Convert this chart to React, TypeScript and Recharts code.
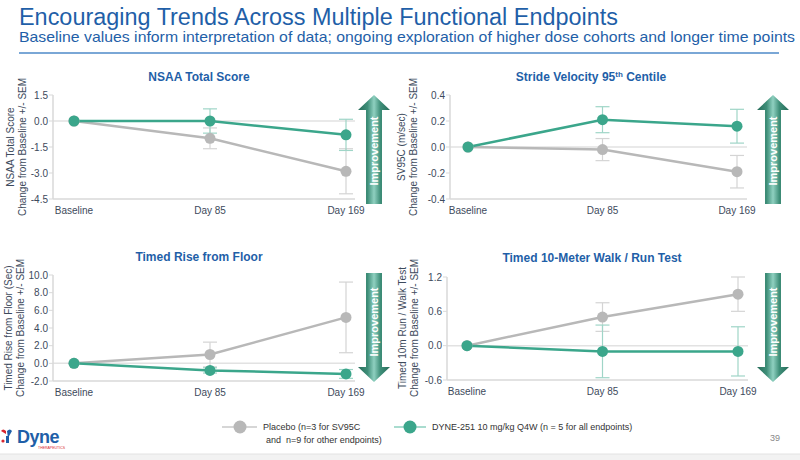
import { LineChart, Line, XAxis, YAxis, ReferenceLine, ErrorBar } from "recharts";

const VISITS = ["Baseline", "Day 85", "Day 169"];

const NSAA_PLACEBO = [0, -1.0, -2.9];
const NSAA_PLACEBO_SEM = [0, 0.6, 1.3];
const NSAA_DYNE = [0, 0, -0.8];
const NSAA_DYNE_SEM = [0, 0.7, 0.9];
const NSAA_TICKS = [-4.5, -3, -1.5, 0, 1.5];

const SV_PLACEBO = [0, -0.02, -0.19];
const SV_PLACEBO_SEM = [0, 0.085, 0.125];
const SV_DYNE = [0, 0.21, 0.16];
const SV_DYNE_SEM = [0, 0.1, 0.13];
const SV_TICKS = [-0.4, -0.2, 0, 0.2, 0.4];

const TRF_PLACEBO = [0, 1.0, 5.2];
const TRF_PLACEBO_SEM = [0, 1.4, 4.0];
const TRF_DYNE = [0, -0.8, -1.2];
const TRF_DYNE_SEM = [0, 0.3, 0.5];
const TRF_TICKS = [-2, 0, 2, 4, 6, 8, 10];

const TMW_PLACEBO = [0, 0.5, 0.9];
const TMW_PLACEBO_SEM = [0, 0.25, 0.3];
const TMW_DYNE = [0, -0.1, -0.1];
const TMW_DYNE_SEM = [0, 0.46, 0.43];
const TMW_TICKS = [-0.6, 0, 0.6, 1.2];

const FONT = '"Liberation Sans", Arial, Helvetica, sans-serif';
const BLUE = "#1f5fa8";
const GREEN = "#3ba68b";
const GREEN_ERR = "#9fd5c7";
const GRAY = "#b8b8b8";
const GRAY_ERR = "#d4d4d4";
const AXIS = "#d9d9d9";
const TICK_TEXT = "#3d4a5c";

function build(placebo: number[], placeboSem: number[], dyne: number[], dyneSem: number[]) {
  return VISITS.map((visit, i) => ({
    visit,
    placebo: placebo[i],
    placeboSem: placeboSem[i],
    dyne: dyne[i],
    dyneSem: dyneSem[i],
  }));
}

interface PanelProps {
  data: ReturnType<typeof build>;
  ticks: number[];
  left: number;
  top: number;
  width: number;
  yAxisWidth: number;
  marginTop: number;
  marginRight: number;
  marginBottom: number;
  padLeft: number;
  padRight: number;
}

function Panel(p: PanelProps) {
  const dom: [number, number] = [p.ticks[0], p.ticks[p.ticks.length - 1]];
  return (
    <div style={{ position: "absolute", left: p.left, top: p.top }}>
      <LineChart
        width={p.width}
        height={160}
        data={p.data}
        margin={{ top: p.marginTop, right: p.marginRight, bottom: p.marginBottom, left: 0 }}
      >
        <XAxis
          dataKey="visit"
          type="category"
          padding={{ left: p.padLeft, right: p.padRight }}
          tickLine={false}
          tickSize={6}
          tickMargin={2}
          height={25}
          axisLine={{ stroke: AXIS, strokeWidth: 1.5 }}
          tick={{ fontSize: 10, fill: TICK_TEXT, fontFamily: FONT }}
        />
        <YAxis
          type="number"
          domain={dom}
          ticks={p.ticks}
          interval={0}
          width={p.yAxisWidth}
          tickSize={4}
          tickMargin={1}
          tickLine={{ stroke: AXIS }}
          axisLine={{ stroke: AXIS, strokeWidth: 1.5 }}
          tickFormatter={(v: number) => v.toFixed(1)}
          tick={{ fontSize: 10, fill: TICK_TEXT, fontFamily: FONT }}
        />
        <ReferenceLine y={0} stroke="#e2e2e2" strokeWidth={1.5} />
        <Line
          dataKey="placebo"
          stroke={GRAY}
          strokeWidth={2.5}
          dot={{ r: 5.5, fill: GRAY, stroke: GRAY, strokeWidth: 0 }}
          activeDot={false}
          isAnimationActive={false}
        >
          <ErrorBar dataKey="placeboSem" width={7} stroke={GRAY_ERR} strokeWidth={1.2} />
        </Line>
        <Line
          dataKey="dyne"
          stroke={GREEN}
          strokeWidth={2.5}
          dot={{ r: 5.5, fill: GREEN, stroke: GREEN, strokeWidth: 0 }}
          activeDot={false}
          isAnimationActive={false}
        >
          <ErrorBar dataKey="dyneSem" width={7} stroke={GREEN_ERR} strokeWidth={1.2} />
        </Line>
      </LineChart>
    </div>
  );
}

function Arrow({ cx, top, bottom, up, textY }: { cx: number; top: number; bottom: number; up: boolean; textY: number }) {
  const pts = up
    ? [[cx - 8, bottom], [cx + 8, bottom], [cx + 8, top + 15], [cx + 16, top + 15], [cx, top], [cx - 16, top + 15], [cx - 8, top + 15]]
    : [[cx - 8, top], [cx + 8, top], [cx + 8, bottom - 15], [cx + 16, bottom - 15], [cx, bottom], [cx - 16, bottom - 15], [cx - 8, bottom - 15]];
  return (
    <g>
      <polygon points={pts.map((q) => q.join(",")).join(" ")} fill="url(#arrowGrad)" />
      <text
        x={cx + 4}
        y={textY}
        transform={`rotate(-90 ${cx + 4} ${textY})`}
        textAnchor="middle"
        fill="#ffffff"
        fontSize={11}
        fontWeight="bold"
        fontFamily={FONT}
      >
        Improvement
      </text>
    </g>
  );
}

function YLabel({ x, y, lines }: { x: number; y: number; lines: string[] }) {
  return (
    <text transform={`rotate(-90 ${x} ${y})`} x={x} y={y} textAnchor="middle" fontSize={10} fill={TICK_TEXT} fontFamily={FONT}>
      <tspan x={x} dy={0}>{lines[0]}</tspan>
      <tspan x={x} dy={11.5}>{lines[1]}</tspan>
    </text>
  );
}

export default function App() {
  return (
    <div style={{ position: "absolute", left: 0, top: 0, width: 800, height: 460, background: "#fff", overflow: "hidden", fontFamily: FONT }}>
      <svg width={800} height={460} style={{ position: "absolute", left: 0, top: 0 }}>
        <defs>
          <linearGradient id="arrowGrad" x1="0" y1="0" x2="1" y2="0">
            <stop offset="0" stopColor="#266b59" />
            <stop offset="0.3" stopColor="#3f8f79" />
            <stop offset="0.5" stopColor="#8fd0c0" />
            <stop offset="0.7" stopColor="#3f8f79" />
            <stop offset="1" stopColor="#266b59" />
          </linearGradient>
        </defs>
        <text x={19} y={25} fontSize={23} fill={BLUE} fontFamily={FONT} textLength={599} lengthAdjust="spacingAndGlyphs">
          Encouraging Trends Across Multiple Functional Endpoints
        </text>
        <text x={19} y={42} fontSize={14.5} fill={BLUE} fontFamily={FONT} textLength={776} lengthAdjust="spacingAndGlyphs">
          Baseline values inform interpretation of data; ongoing exploration of higher dose cohorts and longer time points
        </text>
        <line x1={19} y1={53} x2={779} y2={53} stroke="#7aa7d6" strokeWidth={2} />

        <g fontFamily={FONT} fontSize={12} fontWeight="bold" fill={BLUE} textAnchor="middle">
          <text x={199} y={81}>NSAA Total Score</text>
          <text x={591} y={81}>
            Stride Velocity 95<tspan fontSize={8} dy={-4}>th</tspan>
            <tspan dy={4}> Centile</tspan>
          </text>
          <text x={199} y={261}>Timed Rise from Floor</text>
          <text x={592} y={262}>Timed 10-Meter Walk / Run Test</text>
        </g>

        <YLabel x={14} y={147} lines={["NSAA Total Score", "Change from Baseline +/- SEM"]} />
        <YLabel x={405} y={147} lines={["SV95C (m/sec)", "Change from Baseline +/- SEM"]} />
        <YLabel x={12} y={328} lines={["Timed Rise from Floor (Sec)", "Change from Baseline +/- SEM"]} />
        <YLabel x={406} y={328} lines={["Timed 10m Run / Walk Test", "Change from Baseline +/- SEM"]} />

        <Arrow cx={374} top={95} bottom={204} up textY={151} />
        <Arrow cx={773} top={95} bottom={204} up textY={151} />
        <Arrow cx={374} top={273} bottom={382} up={false} textY={322} />
        <Arrow cx={773} top={273} bottom={382} up={false} textY={322} />

        <line x1={222} y1={427} x2={257} y2={427} stroke="#d6d6d6" strokeWidth={2} />
        <circle cx={240} cy={427} r={6.5} fill={GRAY} />
        <text x={263} y={430} fontSize={9} fill="#333" fontFamily={FONT}>Placebo (n=3 for SV95C</text>
        <text x={266} y={443} fontSize={9} fill="#333" fontFamily={FONT} style={{ whiteSpace: "pre" }}>and  n=9 for other endpoints)</text>
        <line x1={394} y1={427} x2={426} y2={427} stroke="#a9dccf" strokeWidth={2} />
        <circle cx={410} cy={427} r={6.5} fill={GREEN} />
        <text x={432} y={430} fontSize={9} fill="#333" fontFamily={FONT}>DYNE-251 10 mg/kg Q4W (n = 5 for all endpoints)</text>

        <g>
          <path d="M1,431 Q3,428 6,431 L6,434 Z" fill="#d8262f" />
          <path d="M7,431 Q10,428 12,431 L8,438 Z" fill={BLUE} />
          <rect x={6} y={436} width={3} height={7} fill={BLUE} />
          <circle cx={3} cy={441} r={1.6} fill="#d8262f" />
          <text x={17} y={443} fontSize={18} fontWeight="bold" fill={BLUE} fontFamily={FONT} letterSpacing={-0.5}>Dyne</text>
          <text x={38} y={449} fontSize={3.5} fill="#d8262f" fontFamily={FONT}>THERAPEUTICS</text>
        </g>
        <text x={770} y={441} fontSize={9} fill="#888" fontFamily={FONT}>39</text>
        <rect x={0} y={454} width={800} height={6} fill="#f2f2f2" />
        <line x1={0} y1={454} x2={800} y2={454} stroke="#e2e2e2" />
      </svg>

      <Panel data={build(NSAA_PLACEBO, NSAA_PLACEBO_SEM, NSAA_DYNE, NSAA_DYNE_SEM)} ticks={NSAA_TICKS}
        left={0} top={70} width={372} yAxisWidth={53} marginTop={25} marginRight={17} marginBottom={6} padLeft={21} padRight={9} />
      <Panel data={build(SV_PLACEBO, SV_PLACEBO_SEM, SV_DYNE, SV_DYNE_SEM)} ticks={SV_TICKS}
        left={400} top={70} width={360} yAxisWidth={50} marginTop={25} marginRight={13} marginBottom={6} padLeft={18} padRight={10} />
      <Panel data={build(TRF_PLACEBO, TRF_PLACEBO_SEM, TRF_DYNE, TRF_DYNE_SEM)} ticks={TRF_TICKS}
        left={0} top={250} width={372} yAxisWidth={53} marginTop={25} marginRight={17} marginBottom={4} padLeft={21} padRight={9} />
      <Panel data={build(TMW_PLACEBO, TMW_PLACEBO_SEM, TMW_DYNE, TMW_DYNE_SEM)} ticks={TMW_TICKS}
        left={400} top={250} width={360} yAxisWidth={47} marginTop={27} marginRight={12} marginBottom={5} padLeft={20} padRight={10} />
    </div>
  );
}
